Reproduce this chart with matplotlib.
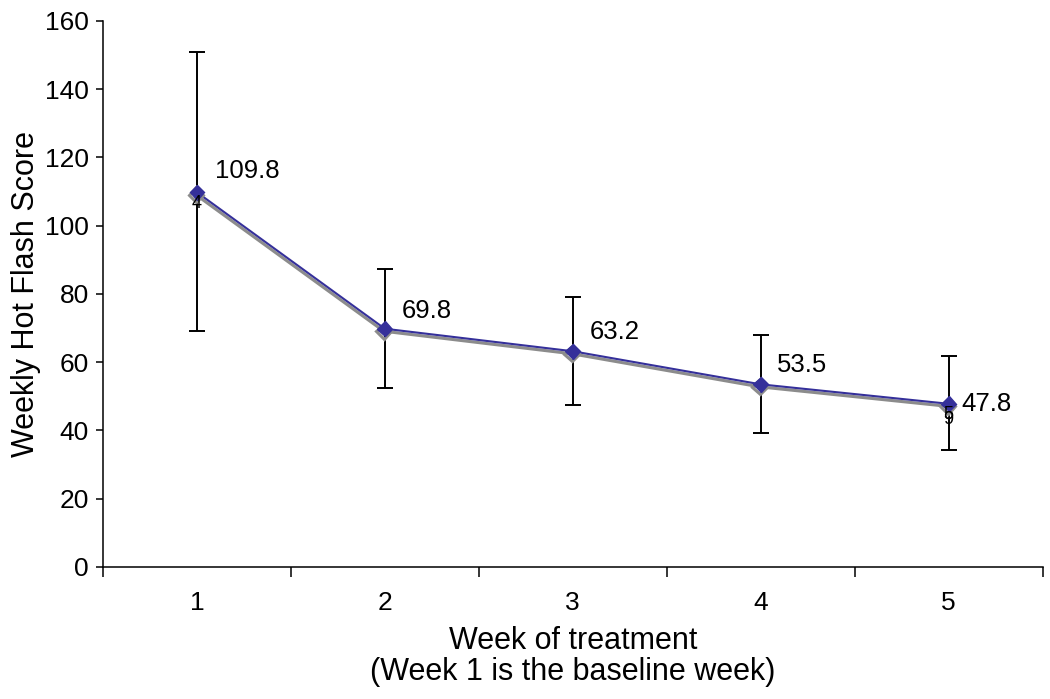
import numpy as np
import matplotlib.pyplot as plt
import matplotlib.patheffects as pe

plt.rcParams['font.family'] = ['Liberation Sans', 'DejaVu Sans']

# Data
weeks = [1, 2, 3, 4, 5]
scores = [109.8, 69.8, 63.2, 53.5, 47.8]
err_lo = [40.8, 17.3, 15.7, 14.3, 13.5]
err_hi = [41.0, 17.5, 15.9, 14.5, 14.0]
labels = ['109.8', '69.8', '63.2', '53.5', '47.8']
# label offsets (points) - last one sits beside the marker
label_dx = [13, 12, 12, 12, 9]
label_dy = [15, 13, 14, 14, 0]

line_color = '#35309a'

fig = plt.figure(figsize=(10.5, 6.99), dpi=100)
ax = fig.add_axes([0.098, 0.189, 0.895, 0.781])

ax.errorbar(weeks, scores, yerr=[err_lo, err_hi], fmt='none', ecolor='black',
            elinewidth=1.4, capsize=5.5, capthick=1.4, zorder=1)
ax.plot(weeks, scores, color=line_color, lw=1.5, marker='D', markersize=7.5,
        markerfacecolor=line_color, markeredgecolor=line_color, zorder=3,
        path_effects=[pe.SimpleLineShadow(offset=(-0.7, -1.8), shadow_color='#8c8c8c',
                                          alpha=1.0, linewidth=2.2),
                      pe.Normal()])

for x, y, t, dx, dy in zip(weeks, scores, labels, label_dx, label_dy):
    ax.annotate(t, (x, y), xytext=(dx, dy), textcoords='offset points',
                fontsize=18.5, va='center', ha='left')

# stray overlapping labels seen under the markers
ax.text(1.0, 106.5, '4', fontsize=13, ha='center', va='center')
ax.text(5.0, 44.8, '5', fontsize=13, ha='center', va='center')
ax.text(5.0, 43.2, '9', fontsize=13, ha='center', va='center')

ax.set_xlim(0.5, 5.5)
ax.set_ylim(0, 160)
ax.set_yticks(np.arange(0, 161, 20))
ax.set_xticks(weeks)
ax.set_xticks(np.arange(0.5, 5.6, 1.0), minor=True)
ax.tick_params(axis='x', which='major', length=0, labelsize=19, pad=17)
ax.tick_params(axis='x', which='minor', length=7, width=1.1, direction='out')
ax.tick_params(axis='y', length=5, width=1.1, labelsize=19, direction='out', pad=5)

for s in ['top', 'right']:
    ax.spines[s].set_visible(False)
for s in ['left', 'bottom']:
    ax.spines[s].set_linewidth(1.1)

ax.set_ylabel('Weekly Hot Flash Score', fontsize=22, labelpad=3)
ax.set_xlabel('Week of treatment\n(Week 1 is the baseline week)', fontsize=22,
              labelpad=8, linespacing=1.05)

fig.savefig('out.png', dpi=100)
